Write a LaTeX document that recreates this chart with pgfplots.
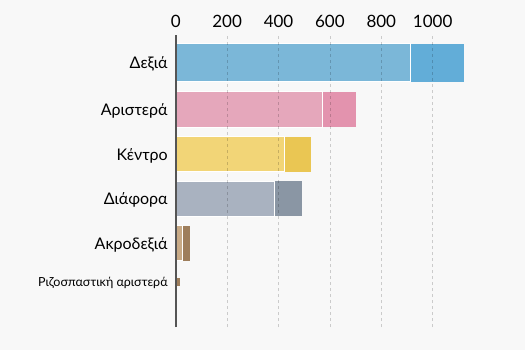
\documentclass[border=0pt]{standalone}
\usepackage{fontspec}
\setmainfont{Lato}
\usepackage{pgfplots}
\pgfplotsset{compat=1.18}
\definecolor{bg}{HTML}{F8F8F8}
\definecolor{axisgray}{HTML}{555555}
\definecolor{blueL}{HTML}{7BB7D8}
\definecolor{blueD}{HTML}{62ADD8}
\definecolor{pinkL}{HTML}{E5A7BB}
\definecolor{pinkD}{HTML}{E393AE}
\definecolor{yelL}{HTML}{F2D577}
\definecolor{yelD}{HTML}{EAC653}
\definecolor{grayL}{HTML}{A9B2C0}
\definecolor{grayD}{HTML}{8A96A4}
\definecolor{tanL}{HTML}{C8AA86}
\definecolor{tanD}{HTML}{9E7E5C}
\begin{document}
\begin{tikzpicture}
\fill[bg] (0,0) rectangle (525pt,-350pt);
\useasboundingbox (0,0) rectangle (525pt,-350pt);
\begin{axis}[
  at={(175.8pt,-35pt)}, anchor=north west,
  scale only axis, width=295.4pt, height=292pt,
  xmin=0, xmax=1150, ymin=-327, ymax=-35,
  axis x line*=top, axis y line*=left,
  x axis line style={draw=none},
  y axis line style={draw=axisgray, line width=1.5pt, -},
  xtick={0,200,400,600,800,1000},
  ytick={-62.7,-109.5,-154.3,-198.5,-243.3,-282},
  yticklabels={Δεξιά, Αριστερά, Κέντρο, Διάφορα, Ακροδεξιά, {\fontsize{12.5}{12.5}\selectfont\raisebox{1.5pt}{Ριζοσπαστική αριστερά}}},
  major tick length=0pt,
  xmajorgrids,
  grid style={black, opacity=0.18, dash pattern=on 3pt off 3pt, line width=0.7pt},
  axis on top,
  /pgf/number format/assume math mode=true,
  /pgf/number format/1000 sep={},
  xticklabel style={font=\fontsize{17}{17}\selectfont, anchor=south, inner sep=0pt, yshift=6.7pt},
  yticklabel style={font=\fontsize{16}{16}\selectfont, anchor=base east, inner sep=0pt, xshift=-8pt, yshift=-6pt},
  clip=false,
]
\addplot[xbar, bar shift=0pt, bar width=38pt, fill=blueD, draw=none] coordinates {(1121,-62.7)};
\addplot[xbar, bar shift=0pt, bar width=38pt, fill=blueL, draw=white, line width=1pt] coordinates {(913,-62.7)};
\addplot[xbar, bar shift=0pt, bar width=35.6pt, fill=pinkD, draw=none] coordinates {(703,-109.5)};
\addplot[xbar, bar shift=0pt, bar width=35.6pt, fill=pinkL, draw=white, line width=1pt] coordinates {(573,-109.5)};
\addplot[xbar, bar shift=0pt, bar width=35.3pt, fill=yelD, draw=none] coordinates {(525,-154.3)};
\addplot[xbar, bar shift=0pt, bar width=35.3pt, fill=yelL, draw=white, line width=1pt] coordinates {(425,-154.3)};
\addplot[xbar, bar shift=0pt, bar width=35pt, fill=grayD, draw=none] coordinates {(490,-198.5)};
\addplot[xbar, bar shift=0pt, bar width=35pt, fill=grayL, draw=white, line width=1pt] coordinates {(383,-198.5)};
\addplot[xbar, bar shift=0pt, bar width=34.7pt, fill=tanD, draw=none] coordinates {(56,-243.3)};
\addplot[xbar, bar shift=0pt, bar width=34.7pt, fill=tanL, draw=white, line width=1pt] coordinates {(27,-243.3)};
\addplot[xbar, bar shift=0pt, bar width=8pt, fill=tanD, draw=none] coordinates {(16,-282)};
\end{axis}
\end{tikzpicture}
\end{document}
